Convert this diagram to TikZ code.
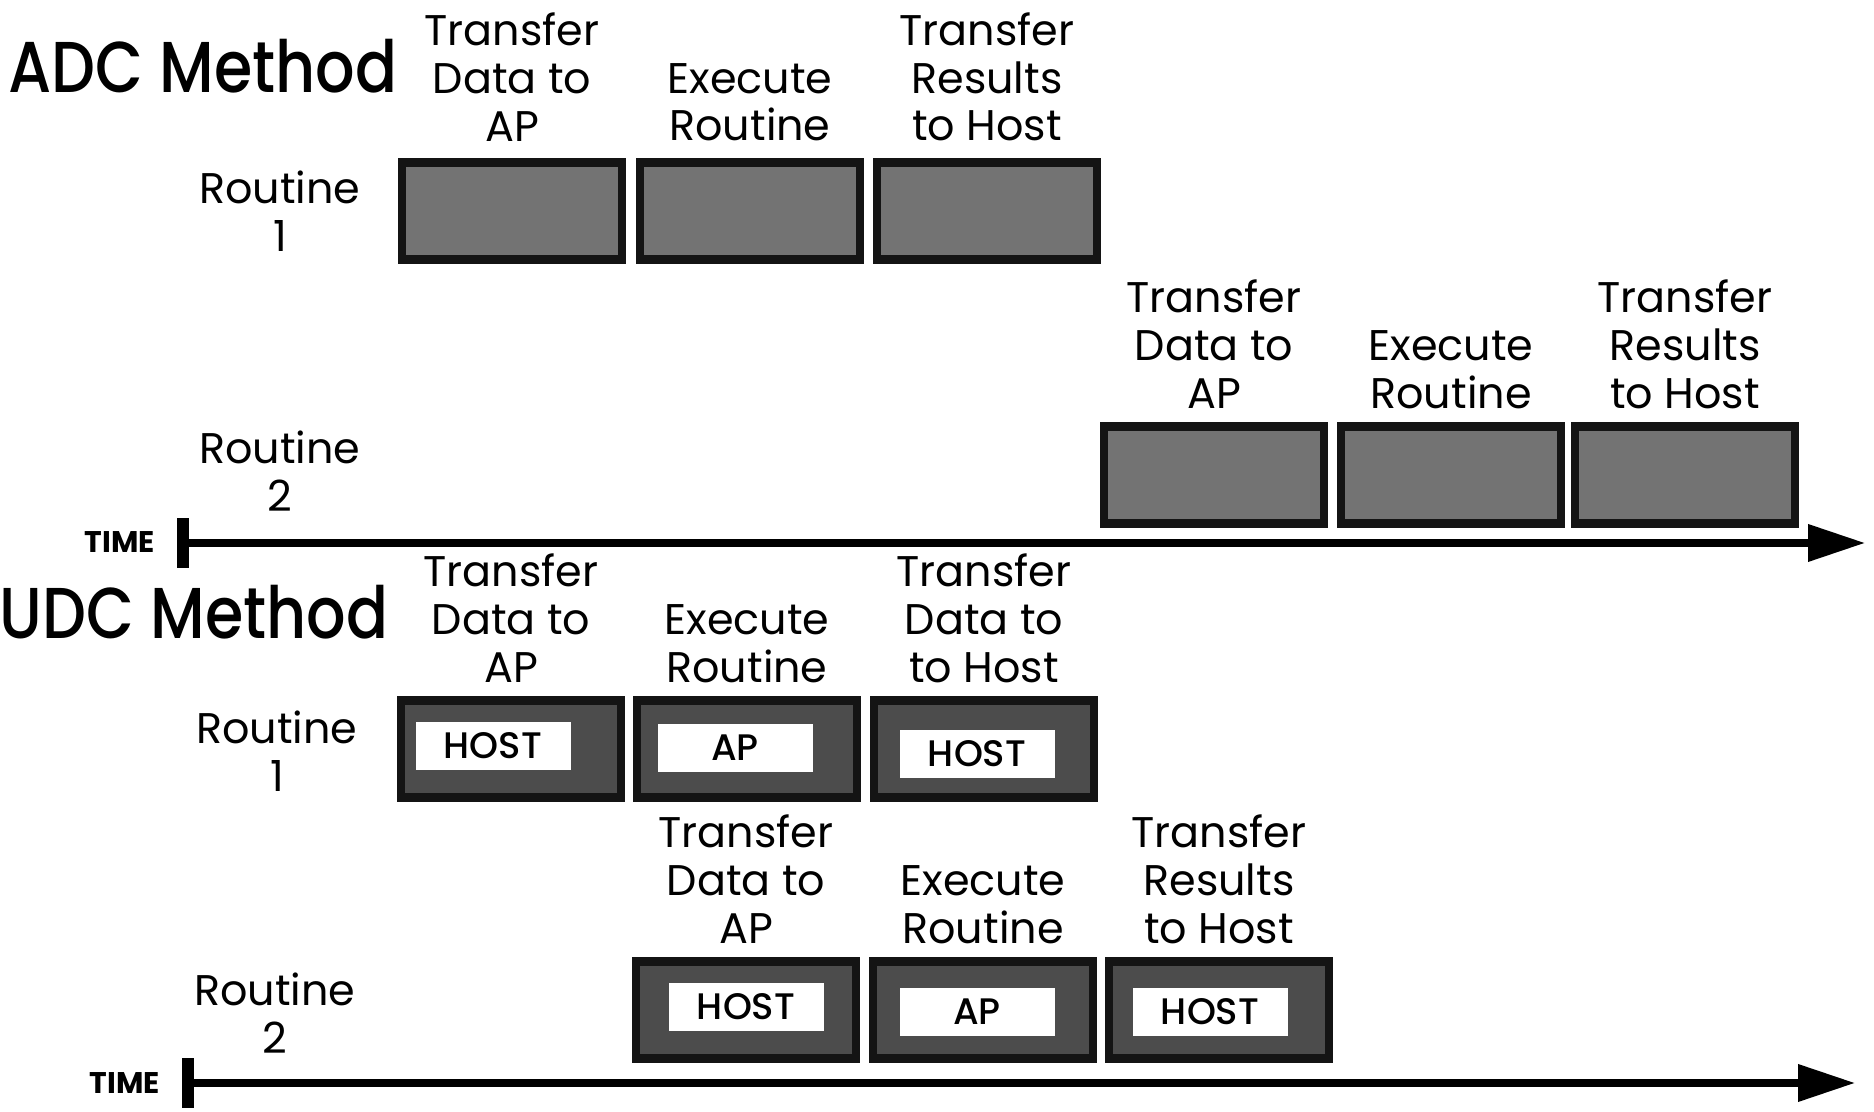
\documentclass[tikz,border=0pt]{standalone}
\usepackage{fontspec}
\setmainfont{Poppins}
\newfontfamily\titlefont{Poppins Medium}[FakeStretch=0.86]
\newfontfamily\tagfont{Poppins Medium}
\usetikzlibrary{arrows.meta, positioning}
\newcommand\lx{2.8}

\begin{document}
\begin{tikzpicture}[stage/.style={rectangle, minimum width=2.2cm, minimum height=0.97cm, fill=black!55, draw=black!92, line width=2.5pt},
    ustage/.style={stage, fill=black!70},
    tag/.style={rectangle, fill=white, minimum width=1.55cm, minimum height=0.48cm, inner sep=0pt, font=\tagfont\fontsize{10.5}{10.5}\selectfont},
    txt/.style={align=center, inner sep=0pt, font=\fontsize{12.2}{13.6}\selectfont},
    heading/.style={inner sep=0pt, font=\titlefont\fontsize{20.5}{22}\selectfont},
    timelbl/.style={inner sep=0pt, font=\bfseries\fontsize{8.5}{9}\selectfont},
    axis/.style={line width=2pt, {Rectangle[length=1.2mm,width=5mm]}-{Triangle[length=5.7mm,width=3.6mm]}}]

    \useasboundingbox (0,0) rectangle (18.74,11.12);

    % ADC method
    \node at (2.03, 10.46) [heading] (adc) {ADC Method};
    \node at (\lx, 9.01) [txt] (ar1) {Routine\\1};
    \node at (5.12, 9.01) [stage] (a1) {};
    \node at (7.50, 9.01) [stage] (a2) {};
    \node at (9.87, 9.01) [stage] (a3) {};
    \node [txt, above=1.6mm of a1] (a1l) {Transfer\\Data to\\AP};
    \node [txt, above=1.6mm of a2] (a2l) {Execute\\Routine};
    \node [txt, above=1.6mm of a3] (a3l) {Transfer\\Results\\to Host};

    \node at (\lx, 6.41) [txt] (ar2) {Routine\\2};
    \node at (12.14, 6.37) [stage] (b1) {};
    \node at (14.51, 6.37) [stage] (b2) {};
    \node at (16.85, 6.37) [stage] (b3) {};
    \node [txt, above=1.3mm of b1] (b1l) {Transfer\\Data to\\AP};
    \node [txt, above=1.3mm of b2] (b2l) {Execute\\Routine};
    \node [txt, above=1.3mm of b3] (b3l) {Transfer\\Results\\to Host};

    \node at (1.20, 5.70) [timelbl] (time1) {TIME};
    \coordinate (t1s) at (1.77, 5.69);
    \coordinate (t1e) at (18.65, 5.69);
    \draw [axis] (t1s) -- (t1e);

    % UDC method
    \node at (1.94, 5.00) [heading] (udc) {UDC Method};
    \node at (\lx - 0.03, 3.61) [txt] (ur1) {Routine\\1};
    \node at (5.11, 3.63) [ustage] (c1) {};
    \node at (7.47, 3.63) [ustage] (c2) {};
    \node at (9.84, 3.63) [ustage] (c3) {};
    \node at (4.93, 3.66) [tag] (c1t) {HOST};
    \node at (7.35, 3.64) [tag] (c2t) {AP};
    \node at (9.77, 3.58) [tag] (c3t) {HOST};
    \node [txt, above=1.3mm of c1] (c1l) {Transfer\\Data to\\AP};
    \node [txt, above=1.3mm of c2] (c2l) {Execute\\Routine};
    \node [txt, above=1.3mm of c3] (c3l) {Transfer\\Data to\\to Host};

    \node at (\lx - 0.05, 0.99) [txt] (ur2) {Routine\\2};
    \node at (7.46, 1.02) [ustage] (d1) {};
    \node at (9.83, 1.02) [ustage] (d2) {};
    \node at (12.19, 1.02) [ustage] (d3) {};
    \node at (7.46, 1.05) [tag] (d1t) {HOST};
    \node at (9.77, 1.00) [tag] (d2t) {AP};
    \node at (12.10, 1.00) [tag] (d3t) {HOST};
    \node [txt, above=1.3mm of d1] (d1l) {Transfer\\Data to\\AP};
    \node [txt, above=1.3mm of d2] (d2l) {Execute\\Routine};
    \node [txt, above=1.3mm of d3] (d3l) {Transfer\\Results\\to Host};

    \node at (1.25, 0.29) [timelbl] (time2) {TIME};
    \coordinate (t2s) at (1.82, 0.29);
    \coordinate (t2e) at (18.55, 0.29);
    \draw [axis] (t2s) -- (t2e);
\end{tikzpicture}
\end{document}
